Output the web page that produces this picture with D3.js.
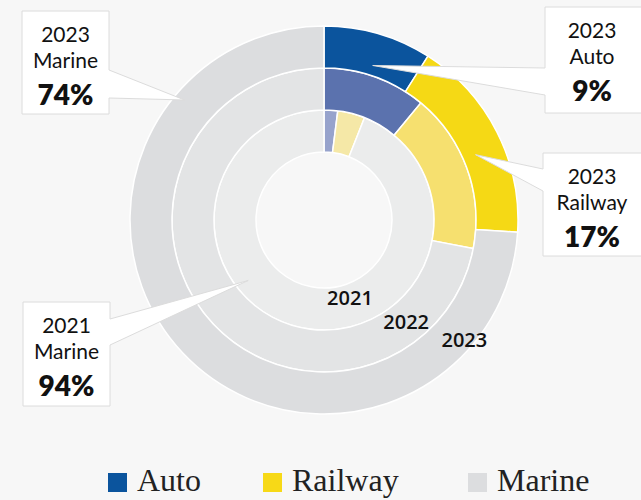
<!DOCTYPE html>
<html>
<head>
<meta charset="utf-8">
<script src="https://cdn.jsdelivr.net/npm/d3@7"></script>
<style>
  html, body { margin: 0; padding: 0; background: #f7f7f7; }
  svg { display: block; }
</style>
</head>
<body>
<div id="chart"></div>
<script>
// data: share of each mode per year (percent)
const years = ["2021", "2022", "2023"];
const modes = ["Auto", "Railway", "Marine"];
const auto = [2, 11, 9];
const railway = [4, 17, 17];
const marine = [94, 72, 74];

// ring colours, one per year (inner → outer)
const autoColors = ["#97a3cc", "#5b72ae", "#0b549d"];
const railColors = ["#f5e8a7", "#f6e06f", "#f5d915"];
const marineColors = ["#ebecec", "#e3e4e5", "#dcdddf"];
const legendColors = ["#0b549d", "#f7d917", "#dcdddf"];

// callouts: year index, mode index, where the pointer lands inside the slice
const callouts = [
  { year: 2, mode: 2, frac: 0.815, r: 184, box: [22, 11, 87, 103], side: "left", pa: 70, pb: 98 },
  { year: 2, mode: 0, frac: 0.54, r: 162, box: [545, 7, 100, 106], side: "right", pa: 68, pb: 95 },
  { year: 2, mode: 1, frac: 0.56, r: 165, box: [543, 153, 100, 103], side: "right", pa: 169, pb: 191 },
  { year: 0, mode: 2, frac: 0.62, r: 97, box: [23, 302, 87, 104], side: "left", pa: 319, pb: 345 }
];

const width = 641, height = 500;
const cx = 324, cy = 220;
const innerR = 68, ringW = 42;

const svg = d3.select("#chart")
  .append("svg")
  .attr("width", width)
  .attr("height", height);

svg.append("rect")
  .attr("width", width)
  .attr("height", height)
  .attr("fill", "#f7f7f7");

const g = svg.append("g")
  .attr("transform", `translate(${cx},${cy})`);

const pie = d3.pie().sort(null).value(d => d.value);

const rows = years.map((y, i) => {
  const values = [auto[i], railway[i], marine[i]];
  const colors = [autoColors[i], railColors[i], marineColors[i]];
  return pie(values.map((v, j) => ({ value: v, mode: modes[j], color: colors[j] })));
});

const arcFor = i => d3.arc()
  .innerRadius(innerR + i * ringW)
  .outerRadius(innerR + (i + 1) * ringW);

rows.forEach((slices, i) => {
  g.append("g")
    .selectAll("path")
    .data(slices)
    .join("path")
    .attr("d", arcFor(i))
    .attr("fill", d => d.data.color)
    .attr("stroke", "#fff")
    .attr("stroke-width", 1.5);
});

// year labels near the bottom-right of each ring
const yearLabelPos = [[162, 84], [141.5, 132], [131, 186]];
years.forEach((y, i) => {
  const [a, r] = yearLabelPos[i];
  const [x, yy] = d3.pointRadial(a * Math.PI / 180, r);
  g.append("text")
    .attr("x", x)
    .attr("y", yy)
    .attr("text-anchor", "middle")
    .attr("dominant-baseline", "middle")
    .style("font-family", "'Open Sans', sans-serif")
    .style("font-size", "20px")
    .style("font-weight", 600)
    .style("fill", "#111")
    .text(y);
});

// callout boxes
callouts.forEach(c => {
  const s = rows[c.year][c.mode];
  const ang = s.startAngle + (s.endAngle - s.startAngle) * c.frac;
  const [px, py] = d3.pointRadial(ang, c.r);
  const tx = cx + px, ty = cy + py;
  const [x0, y0, w, h] = c.box;
  const x1 = x0 + w, y1 = y0 + h;
  const p = d3.path();
  if (c.side === "left") {
    p.moveTo(x0, y0); p.lineTo(x1, y0); p.lineTo(x1, c.pa); p.lineTo(tx, ty);
    p.lineTo(x1, c.pb); p.lineTo(x1, y1); p.lineTo(x0, y1); p.closePath();
  } else {
    p.moveTo(x0, y0); p.lineTo(x1, y0); p.lineTo(x1, y1); p.lineTo(x0, y1);
    p.lineTo(x0, c.pb); p.lineTo(tx, ty); p.lineTo(x0, c.pa); p.closePath();
  }
  svg.append("path")
    .attr("d", p.toString())
    .attr("fill", "#fff")
    .attr("stroke", "#dcdcdc")
    .attr("stroke-width", 1);

  const mid = c.side === "left" ? x0 + w / 2 : 592;
  const lines = [
    { t: years[c.year], dy: 31, size: 21, weight: 400 },
    { t: modes[c.mode], dy: 57, size: 21, weight: 400 },
    { t: s.data.value + "%", dy: 94, size: 28, weight: 800 }
  ];
  lines.forEach(l => {
    svg.append("text")
      .attr("x", mid)
      .attr("y", y0 + l.dy)
      .attr("text-anchor", "middle")
      .style("font-family", "Lato, sans-serif")
      .style("font-size", l.size + "px")
      .style("font-weight", l.weight)
      .style("fill", "#111")
      .text(l.t);
  });
});

// legend
const legendX = [108, 263, 468];
const legend = svg.append("g");
modes.forEach((m, i) => {
  const lg = legend.append("g")
    .attr("transform", `translate(${legendX[i]}, 473)`);
  lg.append("rect")
    .attr("width", 19)
    .attr("height", 19)
    .attr("fill", legendColors[i]);
  lg.append("text")
    .attr("x", 29)
    .attr("y", 18)
    .style("font-family", "'Liberation Serif', serif")
    .style("font-size", "32px")
    .style("fill", "#222")
    .text(m);
});
</script>
</body>
</html>
